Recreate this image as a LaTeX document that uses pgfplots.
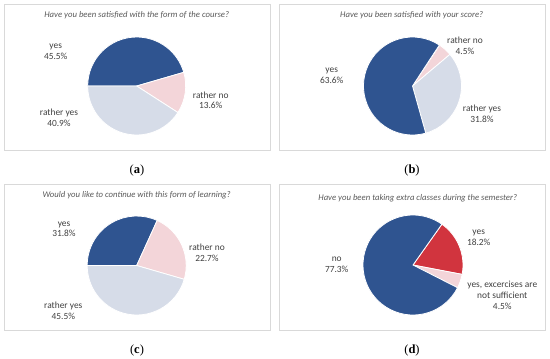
\documentclass[border=0pt]{standalone}
\usepackage{pgfplots}
\usepackage{pgfplotstable}
\pgfplotsset{compat=1.18}
\usepackage{fontspec}
\setmainfont{Carlito}
\newfontfamily\capfont{Liberation Serif}
\definecolor{cblue}{HTML}{2F5490}
\definecolor{clight}{HTML}{D6DCE8}
\definecolor{cpink}{HTML}{F3D5D9}
\definecolor{cred}{HTML}{D1343E}
\definecolor{cgray}{HTML}{595959}
\definecolor{ctext}{HTML}{404040}
\definecolor{cbox}{HTML}{D9D9D9}

\pgfdeclareplotmark{wedge}{%
  \pgfmathsetmacro\wa{\wrot-3.6*(\wcum-\wpct)}%
  \pgfmathsetmacro\wb{\wrot-3.6*\wcum}%
  \pgfpathmoveto{\pgfpointorigin}%
  \pgfpathlineto{\pgfpointpolar{\wa}{\wrad pt}}%
  \pgfpatharc{\wa}{\wb}{\wrad pt}%
  \pgfpathclose
  \pgfusepathqfillstroke
}

% x y = pie centre (px in panel), rot = start angle, r = radius, pct = share (%)
\pgfplotstableread{
x y rot r pct cls
136.7 86 180 49 45.5 Y
136.7 86 180 49 13.6 RN
136.7 86 180 49 40.9 RY
}\tabA
\pgfplotstableread{
x y rot r pct cls
137.5 86 56.4 49 4.5 RN
137.5 86 56.4 49 31.8 RY
137.5 86 56.4 49 63.6 Y
}\tabB
\pgfplotstableread{
x y rot r pct cls
136.7 85.5 180 49.5 31.8 Y
136.7 85.5 180 49.5 22.7 RN
136.7 85.5 180 49.5 45.5 RY
}\tabC
\pgfplotstableread{
x y rot r pct cls
138 85 54.7 50 18.2 R
138 85 54.7 50 4.5 RN
138 85 54.7 50 77.3 Y
}\tabD
\pgfplotstablecreatecol[expr accum={\pgfmathaccuma + \thisrow{pct}}{0}]{cum}{\tabA}
\pgfplotstablecreatecol[expr accum={\pgfmathaccuma + \thisrow{pct}}{0}]{cum}{\tabB}
\pgfplotstablecreatecol[expr accum={\pgfmathaccuma + \thisrow{pct}}{0}]{cum}{\tabC}
\pgfplotstablecreatecol[expr accum={\pgfmathaccuma + \thisrow{pct}}{0}]{cum}{\tabD}

\pgfplotsset{
  pieaxis/.style={width=275pt,height=180pt,scale only axis,
    xmin=0,xmax=275,ymin=0,ymax=180,y dir=reverse,hide axis,clip=false,
    anchor=north west},
  pieplot/.style={scatter, only marks, mark=wedge,
    scatter src=explicit symbolic,
    scatter/classes={Y={fill=cblue,draw=white},RY={fill=clight,draw=white},
      RN={fill=cpink,draw=white},R={fill=cred,draw=white}},
    mark options={line width=0.8pt},
    visualization depends on={\thisrow{rot} \as \wrot},
    visualization depends on={\thisrow{r} \as \wrad},
    visualization depends on={\thisrow{cum} \as \wcum},
    visualization depends on={\thisrow{pct} \as \wpct}},
}
\tikzset{
  ttl/.style={font=\itshape\fontsize{8.7}{10}\selectfont, text=cgray},
  lbl/.style={align=center, font=\fontsize{9.4}{10.7}\selectfont, text=ctext},
  capt/.style={font=\capfont\fontsize{12.5}{14}\selectfont, text=black},
  pbox/.style={draw=cbox, line width=0.6pt}
}

\begin{document}
\begin{tikzpicture}
\path (0pt,0pt) rectangle (550pt,-359pt);
% (a)
\begin{axis}[pieaxis, at={(0pt,0pt)}]
\draw[pbox] (axis cs:4,4) rectangle (axis cs:270,150);
\addplot[pieplot] table[x=x,y=y,meta=cls]{\tabA};
\node[ttl] at (axis cs:136.7,15) {Have you been satisfied with the form of the course?};
\node[lbl] at (axis cs:55.7,52) {yes\\45.5\%};
\node[lbl] at (axis cs:210.7,100.3) {rather no\\13.6\%};
\node[lbl] at (axis cs:59,118) {rather yes\\40.9\%};
\node[capt] at (axis cs:137,170) {(\textbf{a})};
\end{axis}
% (b)
\begin{axis}[pieaxis, at={(275pt,0pt)}]
\draw[pbox] (axis cs:4,4) rectangle (axis cs:270,150);
\addplot[pieplot] table[x=x,y=y,meta=cls]{\tabB};
\node[ttl] at (axis cs:136.7,15) {Have you been satisfied with your score?};
\node[lbl] at (axis cs:190,45.7) {rather no\\4.5\%};
\node[lbl] at (axis cs:56.7,75.8) {yes\\63.6\%};
\node[lbl] at (axis cs:207,113.8) {rather yes\\31.8\%};
\node[capt] at (axis cs:137,170) {(\textbf{b})};
\end{axis}
% (c)
\begin{axis}[pieaxis, at={(0pt,-180pt)}]
\draw[pbox] (axis cs:4,4) rectangle (axis cs:270,150);
\addplot[pieplot] table[x=x,y=y,meta=cls]{\tabC};
\node[ttl] at (axis cs:136.7,15) {Would you like to continue with this form of learning?};
\node[lbl] at (axis cs:64,49.2) {yes\\31.8\%};
\node[lbl] at (axis cs:207,72.5) {rather no\\22.7\%};
\node[lbl] at (axis cs:63.3,130.7) {rather yes\\45.5\%};
\node[capt] at (axis cs:137,170) {(\textbf{c})};
\end{axis}
% (d)
\begin{axis}[pieaxis, at={(275pt,-180pt)}]
\draw[pbox] (axis cs:4,4) rectangle (axis cs:270,150);
\addplot[pieplot] table[x=x,y=y,meta=cls]{\tabD};
\node[ttl] at (axis cs:142.7,18.3) {Have you been taking extra classes during the semester?};
\node[lbl] at (axis cs:203.7,58) {yes\\18.2\%};
\node[lbl] at (axis cs:61.7,85) {no\\77.3\%};
\node[lbl] at (axis cs:227.3,115.5) {yes, excercises are\\not sufficient\\4.5\%};
\node[capt] at (axis cs:137,170) {(\textbf{d})};
\end{axis}
\end{tikzpicture}
\end{document}
